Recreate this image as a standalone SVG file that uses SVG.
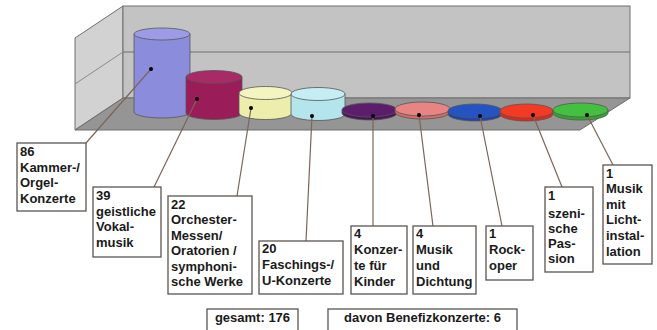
<svg xmlns="http://www.w3.org/2000/svg" width="657" height="330" viewBox="0 0 657 330">
<style>
.lbl{fill:#fff;stroke:#5a5550;stroke-width:1.3}
.t{font-family:"Liberation Sans",Arial,sans-serif;font-weight:bold;font-size:13px;fill:#1a1a1a}
.ld{stroke:#7a6658;stroke-width:1.2;fill:none}
.dot{fill:#000}
.wall{stroke:#6e6e6e;stroke-width:1}
.cyl{stroke:#555;stroke-width:0.8}
</style>
<rect width="657" height="330" fill="#fff"/>
<g id="chart">
<polygon class="wall" points="75,38 123,6 123,98 75,130" fill="#d2d2d2"/>
<rect class="wall" x="123" y="6" width="507" height="92" fill="#c3c3c3"/>
<polygon class="wall" points="75,130 123,98 630,98 580,130" fill="#959595"/>
<line x1="123" y1="52" x2="630" y2="52" stroke="#6e6e6e" stroke-width="1"/>
<line x1="75" y1="84" x2="123" y2="52" stroke="#8a8a8a" stroke-width="1"/>
</g>
<g id="bars">
<g id="bar1"><path class="cyl" d="M134,34 V112 A28,6 0 0 0 190,112 V34 Z" fill="#8c8cdc"/><ellipse class="cyl" cx="162" cy="34" rx="28" ry="6" fill="#9c9ce6"/></g>
<g id="bar2"><path class="cyl" d="M186,77 V113 A28,6.5 0 0 0 242,113 V77 Z" fill="#9a1c58"/><ellipse class="cyl" cx="214" cy="77" rx="28" ry="6.5" fill="#a82a66"/></g>
<g id="bar3"><path class="cyl" d="M239,93 V113 A26.5,6.5 0 0 0 292,113 V93 Z" fill="#eeeeac"/><ellipse class="cyl" cx="265.5" cy="93" rx="26.5" ry="6.5" fill="#f4f4c0"/></g>
<g id="bar4"><path class="cyl" d="M291,94 V114 A27,6.5 0 0 0 345,114 V94 Z" fill="#b4e4ec"/><ellipse class="cyl" cx="318" cy="94" rx="27" ry="6.5" fill="#c4eef4"/></g>
<g id="bar5"><path class="cyl" d="M342,110 V113 A27.5,7 0 0 0 397,113 V110 Z" fill="#4a1458"/><ellipse class="cyl" cx="369.5" cy="110" rx="27.5" ry="7" fill="#5c1e6c"/></g>
<g id="bar6"><path class="cyl" d="M395,109 V112 A27.5,7 0 0 0 450,112 V109 Z" fill="#d86a6a"/><ellipse class="cyl" cx="422.5" cy="109" rx="27.5" ry="7" fill="#e88484"/></g>
<g id="bar7"><path class="cyl" d="M448,111 V114 A27,7 0 0 0 502,114 V111 Z" fill="#1c44b0"/><ellipse class="cyl" cx="475" cy="111" rx="27" ry="7" fill="#2454c4"/></g>
<g id="bar8"><path class="cyl" d="M500,111 V114 A26.5,7 0 0 0 553,114 V111 Z" fill="#e02818"/><ellipse class="cyl" cx="526.5" cy="111" rx="26.5" ry="7" fill="#f43a24"/></g>
<g id="bar9"><path class="cyl" d="M553,110 V113 A27.5,7 0 0 0 608,113 V110 Z" fill="#30a830"/><ellipse class="cyl" cx="580.5" cy="110" rx="27.5" ry="7" fill="#44c040"/></g>
</g>
<g id="connectors">
<line class="ld" x1="151" y1="69" x2="86" y2="143"/>
<line class="ld" x1="197" y1="99" x2="154" y2="187"/>
<line class="ld" x1="251" y1="108" x2="237" y2="196"/>
<line class="ld" x1="312" y1="116" x2="306" y2="241"/>
<line class="ld" x1="373" y1="116" x2="373" y2="226"/>
<line class="ld" x1="419" y1="115" x2="433" y2="226"/>
<line class="ld" x1="480" y1="116" x2="502" y2="226"/>
<line class="ld" x1="533" y1="115" x2="562" y2="187"/>
<line class="ld" x1="587" y1="115" x2="613" y2="165"/>
<circle class="dot" cx="151" cy="69" r="2"/>
<circle class="dot" cx="197" cy="99" r="2"/>
<circle class="dot" cx="251" cy="108" r="2"/>
<circle class="dot" cx="312" cy="116" r="2"/>
<circle class="dot" cx="373" cy="116" r="2"/>
<circle class="dot" cx="419" cy="115" r="2"/>
<circle class="dot" cx="480" cy="116" r="2"/>
<circle class="dot" cx="533" cy="115" r="2"/>
<circle class="dot" cx="587" cy="115" r="2"/>
</g>
<g id="label1"><rect class="lbl" x="17" y="143" width="69" height="68"/>
<text class="t" x="20"><tspan x="20" y="156">86</tspan><tspan x="20" y="172">Kammer-/</tspan><tspan x="20" y="187">Orgel-</tspan><tspan x="20" y="203">Konzerte</tspan></text></g>
<g id="label2"><rect class="lbl" x="93" y="187" width="68" height="70"/>
<text class="t"><tspan x="96" y="200">39</tspan><tspan x="96" y="216">geistliche</tspan><tspan x="96" y="231">Vokal-</tspan><tspan x="96" y="247">musik</tspan></text></g>
<g id="label3"><rect class="lbl" x="168" y="196" width="84" height="98"/>
<text class="t"><tspan x="171" y="209">22</tspan><tspan x="171" y="224">Orchester-</tspan><tspan x="171" y="240">Messen/</tspan><tspan x="171" y="255">Oratorien /</tspan><tspan x="171" y="271">symphoni-</tspan><tspan x="171" y="286">sche Werke</tspan></text></g>
<g id="label4"><rect class="lbl" x="259" y="241" width="84" height="53"/>
<text class="t"><tspan x="262" y="253">20</tspan><tspan x="262" y="269">Faschings-/</tspan><tspan x="262" y="285">U-Konzerte</tspan></text></g>
<g id="label5"><rect class="lbl" x="351" y="226" width="56" height="68"/>
<text class="t"><tspan x="354" y="238">4</tspan><tspan x="354" y="254">Konzer-</tspan><tspan x="354" y="270">te für</tspan><tspan x="354" y="286">Kinder</tspan></text></g>
<g id="label6"><rect class="lbl" x="413" y="226" width="63" height="68"/>
<text class="t"><tspan x="416" y="238">4</tspan><tspan x="416" y="254">Musik</tspan><tspan x="416" y="270">und</tspan><tspan x="416" y="286">Dichtung</tspan></text></g>
<g id="label7"><rect class="lbl" x="486" y="226" width="47" height="54"/>
<text class="t"><tspan x="489" y="238">1</tspan><tspan x="489" y="254">Rock-</tspan><tspan x="489" y="270">oper</tspan></text></g>
<g id="label8"><rect class="lbl" x="545" y="187" width="48" height="85"/>
<text class="t"><tspan x="548" y="200">1</tspan><tspan x="548" y="218">szeni-</tspan><tspan x="548" y="233">sche</tspan><tspan x="548" y="248">Pas-</tspan><tspan x="548" y="263">sion</tspan></text></g>
<g id="label9"><rect class="lbl" x="603" y="165" width="49" height="99"/>
<text class="t"><tspan x="606" y="178">1</tspan><tspan x="606" y="193">Musik</tspan><tspan x="606" y="209">mit</tspan><tspan x="606" y="224">Licht-</tspan><tspan x="606" y="240">instal-</tspan><tspan x="606" y="256">lation</tspan></text></g>
<g id="total"><rect class="lbl" x="207" y="309" width="91" height="26"/>
<text class="t" x="252.5" y="322" text-anchor="middle">gesamt: 176</text></g>
<g id="benefiz"><rect class="lbl" x="328" y="309" width="189" height="26"/>
<text class="t" x="422.5" y="322" text-anchor="middle">davon Benefizkonzerte: 6</text></g>
</svg>
